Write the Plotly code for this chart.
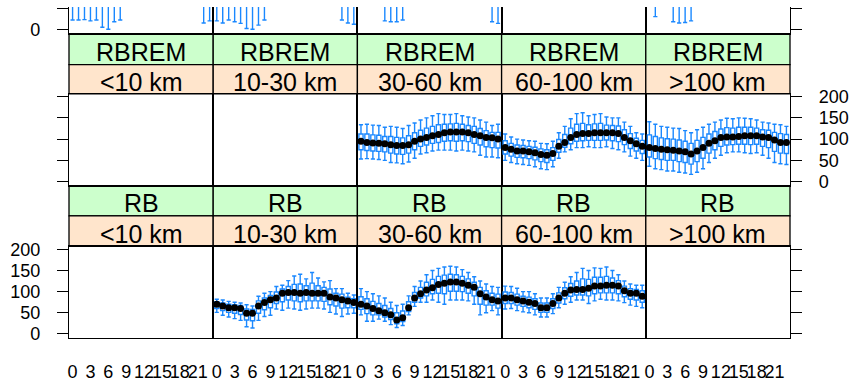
import plotly.graph_objects as go

# ---------------- data ----------------
hours = list(range(24))
tick_hours = [0, 3, 6, 9, 12, 15, 18, 21]
y_ticks = [0, 50, 100, 150, 200]
distances = ["<10 km", "10-30 km", "30-60 km", "60-100 km", ">100 km"]
row_groups = ["RB", "RBREM"]  # bottom row, middle row (top row is cut off)

# RB, 10-30 km
rb_1030_med = [70, 66, 62, 62, 60, 49, 49, 66, 74, 81, 85, 96, 98, 98, 96, 98, 96, 96, 96, 87, 85, 81, 78, 74]
rb_1030_q1 = [60, 55, 51, 49, 46, 33, 31, 49, 57, 62, 72, 76, 80, 78, 76, 78, 78, 78, 77, 69, 66, 61, 62, 62]
rb_1030_q3 = [76, 73, 70, 69, 67, 59, 58, 78, 85, 91, 99, 106, 112, 117, 118, 114, 120, 114, 110, 106, 96, 94, 87, 83]
rb_1030_lo = [51, 44, 40, 36, 32, 17, 14, 32, 41, 44, 59, 56, 61, 59, 56, 59, 61, 61, 59, 51, 47, 41, 47, 49]
rb_1030_hi = [82, 80, 77, 75, 73, 69, 66, 89, 96, 100, 112, 115, 126, 137, 141, 130, 145, 132, 123, 126, 107, 107, 96, 92]

# RB, 30-60 km
rb_3060_med = [70, 66, 60, 55, 50, 45, 33, 38, 62, 85, 95, 104, 109, 117, 120, 123, 123, 120, 115, 110, 95, 87, 81, 78]
rb_3060_q1 = [58, 48, 45, 45, 40, 34, 24, 29, 53, 75, 85, 90, 95, 96, 95, 101, 101, 100, 96, 90, 70, 68, 68, 61]
rb_3060_q3 = [88, 83, 77, 72, 67, 60, 50, 54, 76, 98, 110, 122, 129, 136, 139, 141, 140, 136, 130, 122, 110, 102, 96, 94]
rb_3060_lo = [45, 30, 30, 35, 30, 22, 15, 20, 45, 65, 75, 75, 80, 75, 70, 80, 80, 80, 78, 70, 45, 50, 55, 45]
rb_3060_hi = [107, 100, 95, 90, 85, 75, 67, 70, 90, 112, 125, 140, 150, 155, 158, 160, 158, 152, 145, 135, 125, 118, 112, 110]

# RB, 60-100 km
rb_60100_med = [85, 85, 81, 78, 75, 72, 62, 62, 72, 85, 96, 104, 105, 105, 108, 113, 113, 115, 115, 113, 102, 96, 96, 89]
rb_60100_q1 = [72, 72, 68, 65, 62, 58, 51, 51, 60, 73, 83, 89, 92, 92, 90, 95, 97, 97, 97, 95, 88, 82, 80, 75]
rb_60100_q3 = [99, 98, 94, 89, 87, 83, 73, 73, 83, 97, 109, 119, 125, 130, 129, 134, 134, 136, 132, 126, 113, 107, 105, 102]
rb_60100_lo = [59, 60, 55, 52, 50, 45, 40, 40, 48, 62, 70, 75, 80, 80, 72, 78, 82, 80, 80, 78, 74, 68, 65, 62]
rb_60100_hi = [113, 112, 108, 100, 100, 95, 85, 85, 95, 110, 122, 135, 145, 155, 150, 156, 155, 158, 150, 140, 125, 118, 115, 115]

# RBREM, 30-60 km
rbrem_3060_med = [95, 92, 91, 90, 89, 87, 85, 85, 87, 95, 100, 104, 108, 111, 115, 117, 117, 117, 115, 111, 108, 104, 103, 100]
rbrem_3060_q1 = [75, 73, 72, 71, 70, 67, 65, 64, 67, 75, 83, 86, 90, 92, 95, 96, 95, 96, 94, 90, 86, 82, 80, 79]
rbrem_3060_q3 = [112, 112, 110, 109, 106, 106, 104, 103, 108, 115, 121, 126, 130, 134, 135, 136, 137, 135, 132, 130, 125, 120, 116, 116]
rbrem_3060_lo = [53, 54, 53, 52, 50, 45, 44, 42, 46, 55, 65, 68, 72, 74, 74, 74, 72, 74, 72, 70, 62, 58, 58, 56]
rbrem_3060_hi = [134, 135, 133, 132, 128, 130, 128, 125, 132, 138, 145, 150, 155, 160, 158, 158, 160, 155, 152, 150, 145, 140, 132, 135]

# RBREM, 60-100 km
rbrem_60100_med = [80, 76, 72, 72, 70, 68, 64, 62, 66, 83, 92, 104, 111, 113, 113, 115, 115, 115, 115, 113, 104, 96, 89, 83]
rbrem_60100_q1 = [65, 60, 57, 56, 54, 51, 47, 45, 50, 69, 81, 89, 95, 96, 97, 97, 97, 98, 96, 94, 87, 78, 72, 66]
rbrem_60100_q3 = [96, 90, 86, 85, 83, 81, 77, 75, 80, 99, 111, 126, 135, 137, 134, 136, 137, 133, 132, 131, 122, 113, 102, 97]
rbrem_60100_lo = [50, 45, 42, 40, 38, 35, 30, 28, 35, 55, 70, 75, 80, 80, 82, 80, 80, 82, 78, 75, 70, 60, 55, 50]
rbrem_60100_hi = [112, 105, 100, 98, 96, 95, 90, 89, 95, 115, 130, 148, 160, 162, 155, 158, 160, 152, 150, 150, 140, 130, 115, 112]

# RBREM, >100 km
rbrem_gt100_med = [80, 78, 76, 75, 74, 72, 70, 65, 72, 80, 90, 96, 104, 105, 105, 106, 108, 108, 108, 105, 104, 98, 92, 92]
rbrem_gt100_q1 = [58, 54, 52, 50, 50, 47, 45, 41, 47, 55, 67, 75, 83, 86, 87, 88, 88, 87, 88, 83, 80, 71, 67, 66]
rbrem_gt100_q3 = [110, 106, 103, 101, 100, 98, 95, 90, 97, 104, 112, 118, 124, 127, 126, 128, 128, 128, 126, 122, 121, 116, 113, 111]
rbrem_gt100_lo = [36, 30, 28, 25, 25, 22, 20, 17, 22, 30, 45, 55, 62, 68, 70, 70, 68, 66, 68, 62, 55, 45, 42, 40]
rbrem_gt100_hi = [141, 135, 130, 128, 126, 125, 120, 115, 122, 128, 135, 140, 145, 149, 148, 150, 149, 148, 145, 140, 138, 135, 134, 130]

# top row (mostly cut off): only the low ends of the whiskers are visible
top_med = [80, 78, 76, 75, 75, 72, 70, 76, 80, 95, 102, 108, 112, 115, 116, 116, 114, 112, 110, 105, 100, 95, 85, 82]
top_q1 = [60, 60, 58, 58, 58, 57, 56, 58, 60, 75, 80, 85, 88, 90, 90, 90, 88, 86, 84, 80, 78, 75, 62, 60]
top_q3 = [100, 98, 96, 95, 95, 92, 90, 96, 100, 115, 122, 128, 132, 135, 136, 136, 134, 132, 130, 125, 120, 115, 105, 102]
top_hi = [130, 128, 126, 125, 125, 122, 120, 126, 130, 145, 152, 158, 162, 165, 166, 166, 164, 162, 160, 155, 150, 145, 135, 132]
top_lt10_lo = [22, 22, 23, 20, 22, 5, 0, 18, 22, 58, 60, 62, 64, 66, 66, 66, 64, 62, 60, 60, 58, 56, 15, 20]
top_1030_lo = [20, 15, 22, 18, 14, 2, 0, 10, 22, 58, 60, 62, 64, 66, 66, 66, 64, 62, 60, 60, 58, 22, 15, 12]
top_3060_lo = [58, 57, 56, 56, 20, 18, 18, 22, 58, 60, 62, 64, 66, 66, 66, 66, 64, 62, 60, 60, 58, 56, 18, 14]
top_60100_lo = [58, 57, 56, 56, 56, 55, 55, 56, 58, 60, 62, 64, 66, 66, 66, 66, 64, 62, 60, 60, 58, 56, 56, 58]
top_gt100_lo = [58, 30, 56, 56, 18, 15, 16, 20, 58, 60, 62, 64, 66, 66, 66, 66, 64, 62, 60, 60, 58, 56, 56, 58]

# (row, col) -> (med, q1, q3, lo, hi); row 0 = bottom (RB), 1 = middle (RBREM), 2 = top
panels = {
    (0, 1): (rb_1030_med, rb_1030_q1, rb_1030_q3, rb_1030_lo, rb_1030_hi),
    (0, 2): (rb_3060_med, rb_3060_q1, rb_3060_q3, rb_3060_lo, rb_3060_hi),
    (0, 3): (rb_60100_med, rb_60100_q1, rb_60100_q3, rb_60100_lo, rb_60100_hi),
    (1, 2): (rbrem_3060_med, rbrem_3060_q1, rbrem_3060_q3, rbrem_3060_lo, rbrem_3060_hi),
    (1, 3): (rbrem_60100_med, rbrem_60100_q1, rbrem_60100_q3, rbrem_60100_lo, rbrem_60100_hi),
    (1, 4): (rbrem_gt100_med, rbrem_gt100_q1, rbrem_gt100_q3, rbrem_gt100_lo, rbrem_gt100_hi),
    (2, 0): (top_med, top_q1, top_q3, top_lt10_lo, top_hi),
    (2, 1): (top_med, top_q1, top_q3, top_1030_lo, top_hi),
    (2, 2): (top_med, top_q1, top_q3, top_3060_lo, top_hi),
    (2, 3): (top_med, top_q1, top_q3, top_60100_lo, top_hi),
    (2, 4): (top_med, top_q1, top_q3, top_gt100_lo, top_hi),
}

# ---------------- layout geometry ----------------
W, H = 849, 382
ML, MR, MT, MB = 69, 57, 0, 35
PH = H - MT - MB


def fy(px):
    return (PH - (px - MT)) / PH


row_domains = {
    0: [0.0, fy(251)],
    1: [fy(187.3), fy(91)],
    2: [fy(28), 1.0],
}
row_ranges = {0: [-9.7, 206.8], 1: [-9.7, 206.8], 2: [-10.5, 53.0]}

BLUE = "#1a88ff"
FONT = "Liberation Sans, Arial, sans-serif"
LW = 1.3

fig = go.Figure()
layout = dict(
    width=W, height=H,
    margin=dict(l=ML, r=MR, t=MT, b=MB, pad=0),
    paper_bgcolor="white", plot_bgcolor="white",
    showlegend=False,
    font=dict(family=FONT, color="black"),
)

for r in range(3):
    for c in range(5):
        i = r * 5 + c + 1
        xname = "xaxis" if i == 1 else f"xaxis{i}"
        yname = "yaxis" if i == 1 else f"yaxis{i}"
        xref = "x" if i == 1 else f"x{i}"
        yref = "y" if i == 1 else f"y{i}"
        layout[xname] = dict(
            domain=[c / 5, (c + 1) / 5], range=[-0.6, 23.6], anchor=yref,
            showgrid=False, zeroline=False, showline=True, linecolor="black",
            linewidth=LW, mirror=(r < 2), tickvals=tick_hours,
            ticktext=[str(h) for h in tick_hours], ticks="", tickangle=0,
            showticklabels=(r == 0), tickfont=dict(size=18, family=FONT),
            ticklabelstandoff=17, fixedrange=True,
        )
        labels = (c == 0 and r in (0, 2)) or (c == 4 and r == 1)
        layout[yname] = dict(
            domain=row_domains[r], range=row_ranges[r], anchor=xref,
            showgrid=False, zeroline=False, showline=True, linecolor="black",
            linewidth=LW, mirror=True, tickvals=y_ticks,
            ticks="outside" if c in (0, 4) else "", ticklen=11,
            tickwidth=LW, tickcolor="black",
            side="left" if c == 0 else "right",
            showticklabels=labels, tickfont=dict(size=18, family=FONT),
            ticklabelstandoff=13, fixedrange=True,
        )
        # empty trace so that every panel (also the empty ones) gets drawn
        fig.add_trace(go.Scatter(x=[], y=[], mode="markers", xaxis=xref, yaxis=yref,
                                 hoverinfo="skip"))
        if (r, c) in panels:
            med, q1, q3, lo, hi = panels[(r, c)]
            fig.add_trace(go.Box(
                x=hours, q1=q1, median=med, q3=q3, lowerfence=lo, upperfence=hi,
                width=0.7, whiskerwidth=1, line=dict(color=BLUE, width=1.4),
                fillcolor="rgba(0,0,0,0)", boxpoints=False,
                xaxis=xref, yaxis=yref,
            ))
            fig.add_trace(go.Scatter(
                x=hours, y=med, mode="markers",
                marker=dict(color="black", size=7),
                xaxis=xref, yaxis=yref,
            ))

# strips
shapes = []
annotations = []
strip_rows = [
    # (group text, green px top, green px bottom, orange px bottom)
    (row_groups[1], 28, 60.5, 91),
    (row_groups[0], 187.3, 219, 251),
]
for grp, gtop, gmid, gbot in strip_rows:
    for c in range(5):
        x0, x1 = c / 5, (c + 1) / 5
        shapes.append(dict(type="rect", xref="paper", yref="paper", x0=x0, x1=x1,
                           y0=fy(gmid), y1=fy(gtop), fillcolor="#ccffcc",
                           line=dict(color="black", width=LW), layer="below"))
        shapes.append(dict(type="rect", xref="paper", yref="paper", x0=x0, x1=x1,
                           y0=fy(gbot), y1=fy(gmid), fillcolor="#ffe5cc",
                           line=dict(color="black", width=LW), layer="below"))
        annotations.append(dict(xref="paper", yref="paper", x=(x0 + x1) / 2,
                                y=fy((gtop + gmid) / 2 + 2.5), text=grp,
                                showarrow=False, xanchor="center", yanchor="middle",
                                font=dict(size=25, family=FONT, color="black")))
        annotations.append(dict(xref="paper", yref="paper", x=(x0 + x1) / 2,
                                y=fy((gmid + gbot) / 2 + 2.5), text=distances[c],
                                showarrow=False, xanchor="center", yanchor="middle",
                                font=dict(size=25, family=FONT, color="black")))

layout["shapes"] = shapes
layout["annotations"] = annotations
fig.update_layout(**layout)
fig.write_html("out.html")
